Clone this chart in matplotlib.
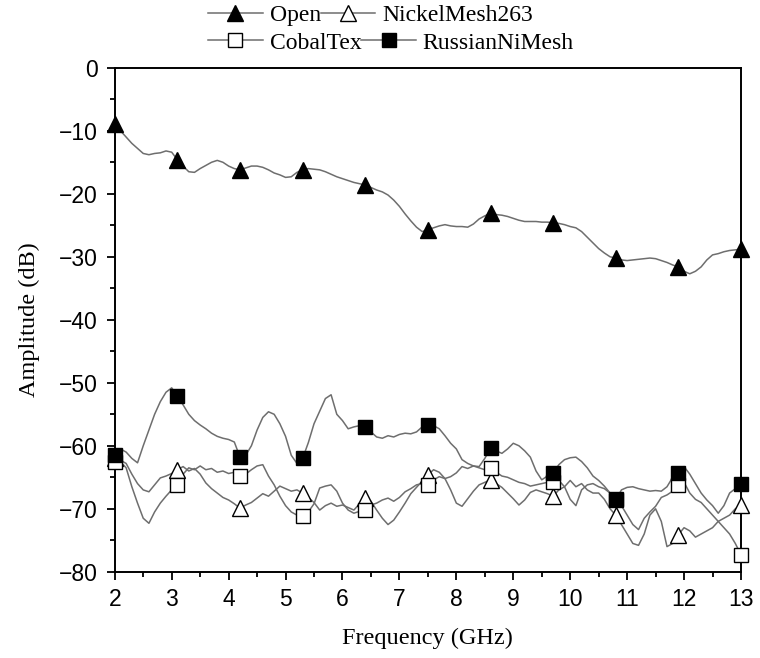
import numpy as np
import matplotlib
matplotlib.use("Agg")
import matplotlib.pyplot as plt
from matplotlib.lines import Line2D

# frequency grid, 0.1 GHz steps (markers every 1.1 GHz)
freq = np.round(np.arange(2.0, 13.0001, 0.1), 1)

open_db = [
    -9.0, -10.0, -11.0, -12.0, -12.8, -13.6, -13.8, -13.6, -13.5, -13.2, -13.4,
    -14.6, -15.6, -16.5, -16.6, -16.0, -15.5, -15.0, -14.7, -15.0, -15.6, -16.0,
    -16.2, -15.9, -15.6, -15.6, -15.8, -16.2, -16.7, -17.0, -17.4, -17.3, -16.6,
    -16.2, -16.0, -16.1, -16.2, -16.5, -16.9, -17.3, -17.6, -17.9, -18.2, -18.4,
    -18.6, -19.0, -19.4, -19.7, -20.2, -21.0, -22.0, -23.2, -24.3, -25.3, -26.0,
    -25.7, -25.4, -25.1, -24.9, -25.1, -25.2, -25.2, -25.3, -24.8, -24.0, -23.5,
    -23.1, -23.3, -23.4, -23.6, -23.9, -24.2, -24.4, -24.4, -24.4, -24.5, -24.5,
    -24.6, -24.7, -24.9, -25.2, -25.4, -26.0, -26.9, -27.8, -28.7, -29.4, -30.0,
    -30.2, -30.5, -30.6, -30.5, -30.4, -30.3, -30.2, -30.3, -30.6, -30.9, -31.3,
    -31.6, -32.3, -32.7, -32.3, -31.6, -30.5, -29.7, -29.5, -29.2, -29.0, -28.9,
    -28.8,
]

nickel_db = [
    -62.0, -62.3, -62.8, -64.5, -66.0, -67.0, -67.3, -66.2, -65.1, -64.8, -64.4,
    -63.8, -63.3, -64.0, -63.6, -64.5, -65.9, -66.8, -67.5, -68.2, -68.6, -69.2,
    -69.9, -69.4, -69.0, -68.3, -67.6, -68.0, -67.2, -66.4, -66.8, -67.2, -67.0,
    -67.5, -68.2, -69.0, -70.2, -69.5, -69.1, -69.6, -69.4, -69.8, -70.2, -69.2,
    -68.3, -68.8, -70.2, -71.5, -72.5, -71.8, -70.5, -69.1, -67.6, -66.6, -65.6,
    -64.6, -63.8, -64.2, -65.2, -67.0, -69.1, -69.6, -68.4, -67.2, -66.2, -65.8,
    -65.4, -66.0, -66.6, -67.5, -68.4, -69.4, -68.6, -67.4, -67.0, -67.3, -67.6,
    -68.0, -67.0, -66.5, -65.5, -66.5, -66.0, -67.0, -67.5, -67.5, -68.5, -70.0,
    -71.0, -72.5, -74.0, -75.5, -75.8, -74.0, -71.0, -70.0, -72.0, -76.0, -75.5,
    -74.1, -73.0, -73.5, -74.5, -74.0, -73.5, -73.0, -72.0, -71.5, -71.0, -70.0,
    -69.4,
]

cobaltex_db = [
    -62.5, -62.5, -63.5, -66.5, -69.1, -71.5, -72.3, -70.5, -69.1, -68.0, -67.0,
    -66.2, -64.5, -63.5, -63.8, -63.2, -63.8, -63.6, -64.2, -64.0, -64.4, -64.2,
    -64.8, -64.5, -63.8, -63.2, -63.0, -64.8, -66.2, -68.0, -69.5, -70.5, -71.0,
    -71.2, -70.5, -69.2, -66.7, -66.4, -66.2, -67.2, -69.1, -70.2, -70.7, -70.4,
    -70.2, -69.4, -69.1, -68.6, -68.3, -68.8, -68.2, -67.3, -66.8, -66.2, -66.0,
    -66.2, -65.4, -64.9, -65.2, -64.9, -64.3, -63.3, -63.6, -63.2, -63.5, -63.8,
    -63.5, -64.2, -64.8, -65.0, -65.4, -65.8, -66.0, -66.4, -66.2, -66.0, -65.8,
    -65.7, -65.5, -66.5, -68.5, -69.5, -67.0, -66.2, -66.0, -66.5, -66.8, -67.5,
    -68.5, -69.5, -71.0, -72.5, -73.3, -71.5, -70.5, -69.6, -68.2, -67.8, -67.2,
    -66.2, -65.8, -67.5, -68.5, -69.0, -70.0, -71.0, -72.0, -73.0, -74.0, -75.5,
    -77.3,
]

russian_db = [
    -61.4, -60.5, -61.0, -62.0, -62.7, -60.0, -57.5, -55.0, -53.0, -51.5, -50.8,
    -52.1, -53.5, -55.0, -56.0, -56.7, -57.3, -58.0, -58.5, -58.8, -59.0, -59.4,
    -61.8, -61.5, -60.0, -57.5, -55.5, -54.6, -55.0, -56.5, -58.5, -61.5, -62.8,
    -62.0, -59.5, -56.5, -54.5, -52.5, -51.9, -55.0, -56.0, -57.3, -57.0, -56.8,
    -57.0, -57.8, -58.6, -58.8, -58.4, -58.6, -58.2, -58.0, -58.1, -57.8, -57.0,
    -56.7, -56.8, -57.3, -58.4, -59.6, -60.5, -62.2, -62.8, -63.2, -63.3, -62.0,
    -60.4, -60.8, -61.2, -60.5, -59.6, -60.0, -60.8, -61.8, -64.0, -65.4, -64.8,
    -64.3, -63.0, -62.2, -61.9, -61.8, -62.5, -63.5, -64.8, -65.5, -66.4, -67.5,
    -68.6, -67.0, -66.6, -66.5, -66.8, -67.0, -67.2, -67.1, -67.2, -66.5, -65.0,
    -64.3, -63.3, -64.5, -66.0, -67.5, -68.6, -69.5, -70.7, -69.5, -67.5, -66.8,
    -66.1,
]

series = [
    ("Open", open_db, "^", "black"),
    ("NickelMesh263", nickel_db, "^", "white"),
    ("CobalTex", cobaltex_db, "s", "white"),
    ("RussianNiMesh", russian_db, "s", "black"),
]

line_col = "#6e6e6e"
serif = ["Liberation Serif", "DejaVu Serif"]

fig = plt.figure(figsize=(7.6, 6.58), dpi=100)
ax = fig.add_axes([0.151, 0.131, 0.824, 0.766])

for name, vals, mk, fc in series:
    ax.plot(freq, vals, color=line_col, lw=1.1, zorder=2)
handles = {}
for i, (name, vals, mk, fc) in enumerate(series):
    ms = 11 if mk == "^" else 10
    ax.plot(freq, vals, ls="none", marker=mk, ms=ms, mfc=fc, mec="black",
            mew=1.0, markevery=11, zorder=3 + i, clip_on=False)
    handles[name] = Line2D([], [], color=line_col, lw=1.1, marker=mk, ms=ms,
                           mfc=fc, mec="black", mew=1.0)

ax.set_xlim(2, 13)
ax.set_ylim(-80, 0)
ax.set_xticks(np.arange(2, 14, 1))
ax.set_xticks(np.arange(2, 13.01, 0.5), minor=True)
ax.set_yticks(np.arange(-80, 1, 10))
ax.set_yticks(np.arange(-80, 1, 5), minor=True)
ax.tick_params(which="both", direction="out", top=False, right=False, width=1.3)
ax.tick_params(which="major", length=6, pad=6)
ax.tick_params(which="minor", length=3.5)
for lab in ax.get_xticklabels() + ax.get_yticklabels():
    lab.set_fontfamily(["Liberation Sans", "DejaVu Sans"])
    lab.set_fontsize(16.5)
for sp in ax.spines.values():
    sp.set_linewidth(1.4)

ax.set_xlabel("Frequency (GHz)", family=serif, fontsize=17.5, labelpad=12)
ax.set_ylabel("Amplitude (dB)", family=serif, fontsize=17.5, labelpad=14)

leg_kw = dict(loc="center left", ncol=2, frameon=False, borderpad=0,
              borderaxespad=0, columnspacing=0.0, handletextpad=0.3,
              handlelength=2.3, prop={"family": serif, "size": 17})
fig.legend([handles["Open"], handles["NickelMesh263"]],
           ["Open", "NickelMesh263"], bbox_to_anchor=(0.274, 0.977), **leg_kw)
fig.legend([handles["CobalTex"], handles["RussianNiMesh"]],
           ["CobalTex", "RussianNiMesh"], bbox_to_anchor=(0.274, 0.935), **leg_kw)

fig.savefig("out.png", dpi=100)
